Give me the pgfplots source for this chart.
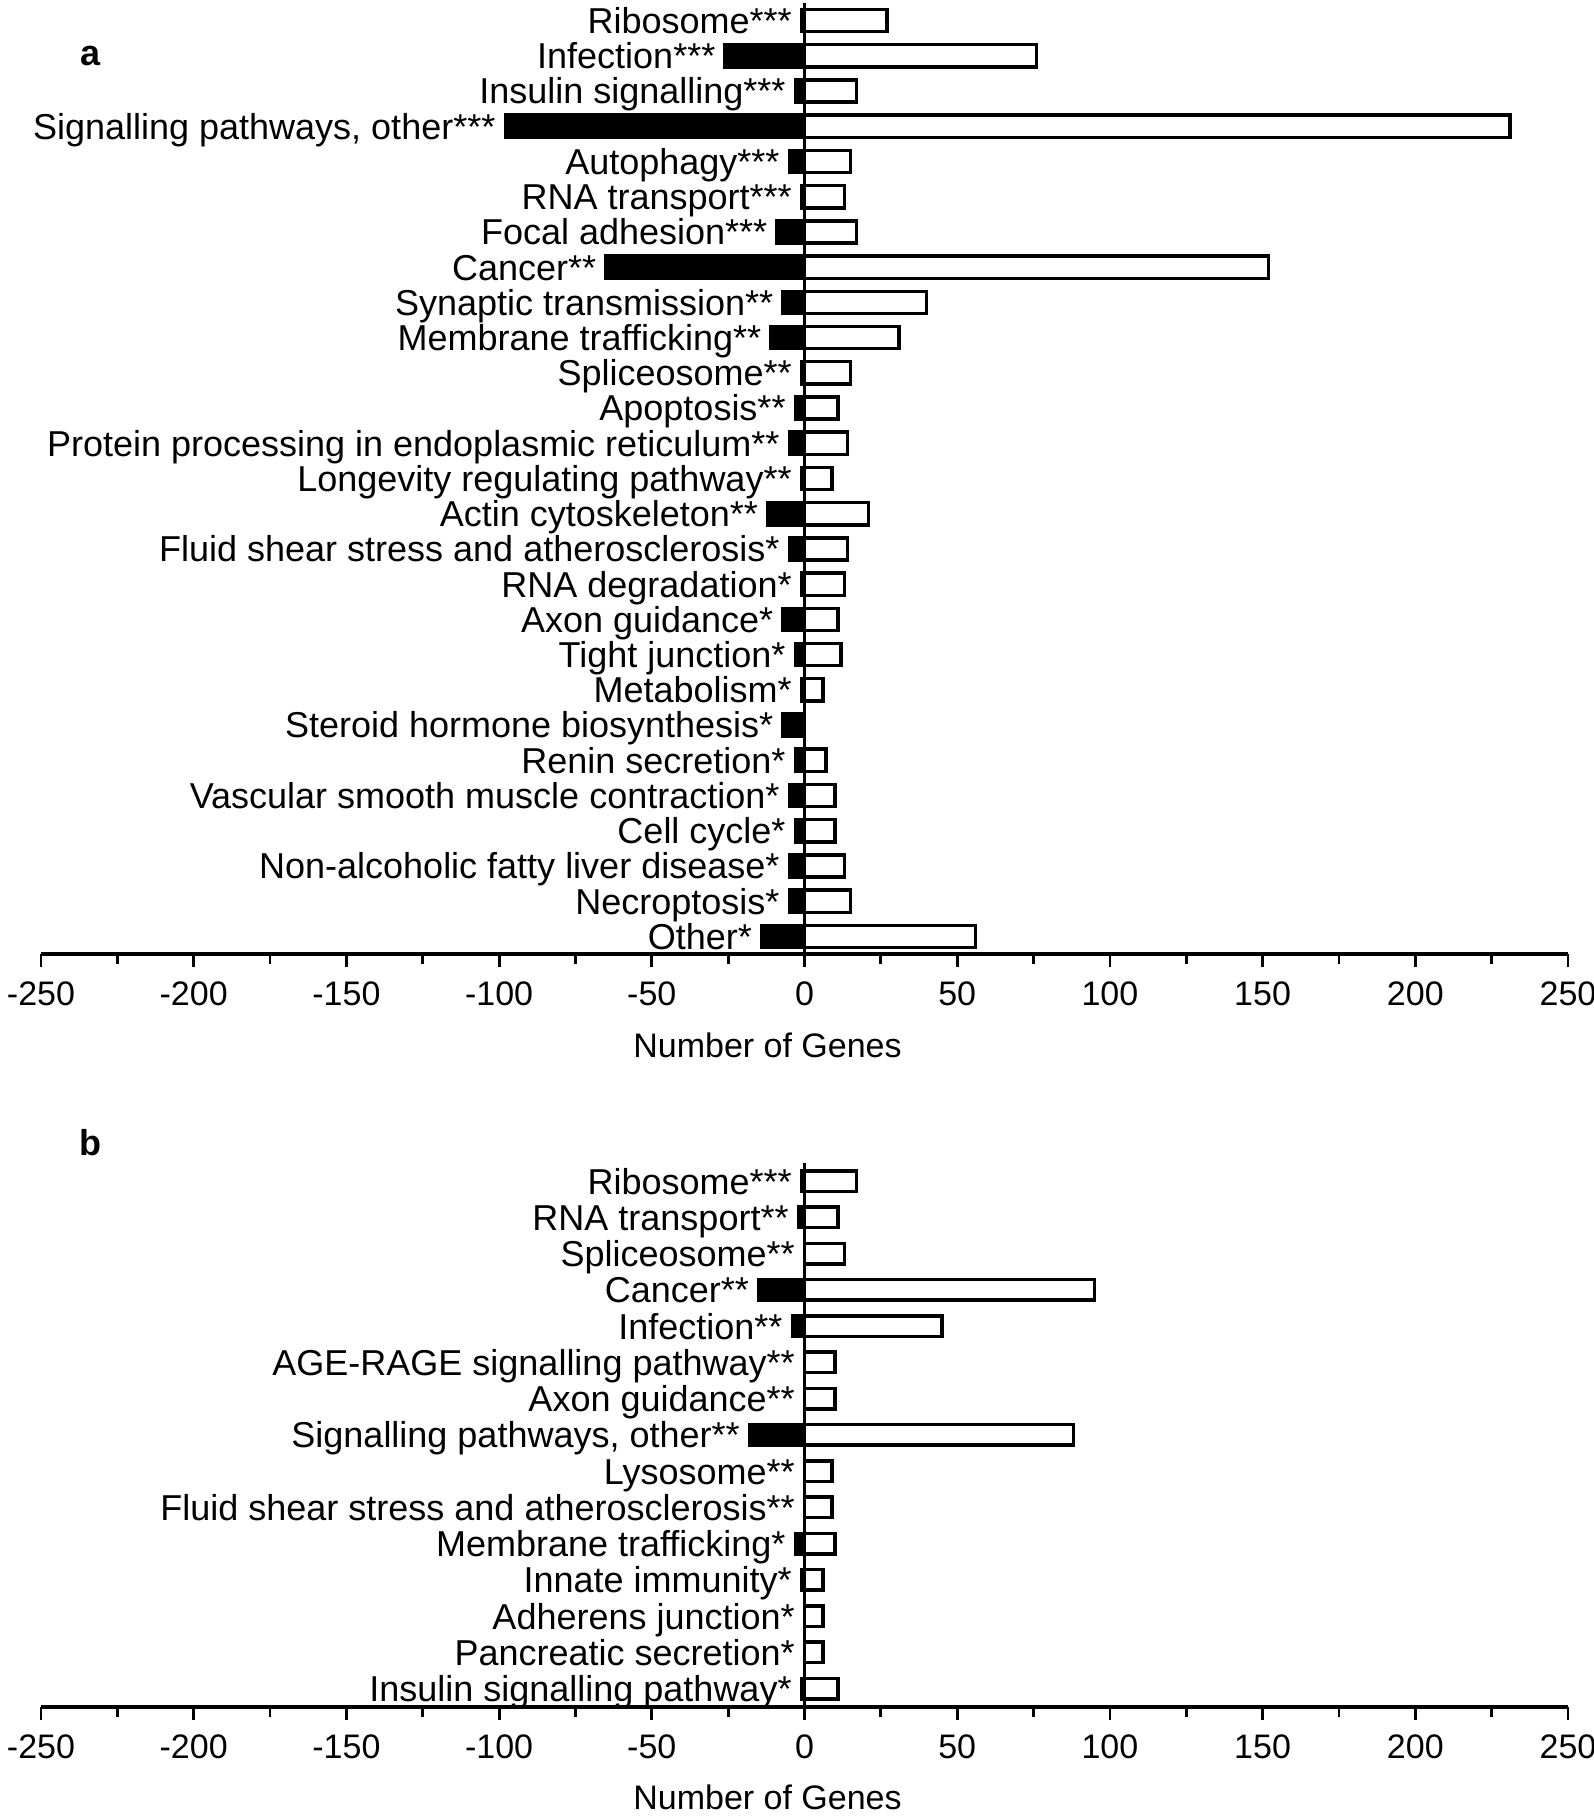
\documentclass[border=0pt]{standalone}
\usepackage{pgfplots}
\pgfplotsset{compat=1.18}
\usepackage{pgfplotstable}
\usepackage{fontspec}
\setmainfont{Liberation Sans}

\pgfplotstableread[col sep=semicolon]{
label;neg;pos
Ribosome***;-1;27
Infection***;-26;76
Insulin signalling***;-3;17
Signalling pathways, other***;-98;231
Autophagy***;-5;15
RNA transport***;-1;13
Focal adhesion***;-9;17
Cancer**;-65;152
Synaptic transmission**;-7;40
Membrane trafficking**;-11;31
Spliceosome**;-1;15
Apoptosis**;-3;11
Protein processing in endoplasmic reticulum**;-5;14
Longevity regulating pathway**;-1;9
Actin cytoskeleton**;-12;21
Fluid shear stress and atherosclerosis*;-5;14
RNA degradation*;-1;13
Axon guidance*;-7;11
Tight junction*;-3;12
Metabolism*;-1;6
Steroid hormone biosynthesis*;-7;0
Renin secretion*;-3;7
Vascular smooth muscle contraction*;-5;10
Cell cycle*;-3;10
Non-alcoholic fatty liver disease*;-5;13
Necroptosis*;-5;15
Other*;-14;56
}\tblA

\pgfplotstableread[col sep=semicolon]{
label;neg;pos
Ribosome***;-1;17
RNA transport**;-2;11
Spliceosome**;0;13
Cancer**;-15;95
Infection**;-4;45
AGE-RAGE signalling pathway**;0;10
Axon guidance**;0;10
Signalling pathways, other**;-18;88
Lysosome**;0;9
Fluid shear stress and atherosclerosis**;0;9
Membrane trafficking*;-3;10
Innate immunity*;-1;6
Adherens junction*;0;6
Pancreatic secretion*;0;6
Insulin signalling pathway*;-1;11
}\tblB

\pgfplotsset{
 panel/.style={
  scale only axis, width=763.5pt,
  xmin=-250, xmax=250,
  xbar,
  axis x line*=bottom, axis y line*=center,
  hide obscured x ticks=false,
  xtick={-250,-200,...,250}, minor x tick num=1,
  tick align=outside,
  major tick length=6.5pt, minor tick length=5pt,
  x axis line style={line width=2pt},
  y axis line style={line width=1.7pt},
  xtick style={line width=1.4pt, black},
  ytick style={draw=none},
  /pgf/number format/assume math mode=true,
  xticklabel style={yshift=-4pt, font=\fontsize{17}{20}\selectfont},
  yticklabel style={inner xsep=0pt, xshift=1.8pt, text height=12.9pt, text depth=0pt},
  xlabel={Number of Genes},
  every axis x label/.style={at={(axis description cs:0.5,0)}, anchor=center, yshift=-45.5pt, xshift=-18.5pt, font=\fontsize{17}{20}\selectfont},
  clip=false,
 },
 labelsfrom/.style n args={2}{
  yticklabel={%
   \pgfmathtruncatemacro\rowi{#2-\ticknum}%
   \pgfplotstablegetelem{\rowi}{neg}\of#1%
   \pgfmathsetlengthmacro\mysh{max(0,-(\pgfplotsretval))*1.527}%
   \pgfplotstablegetelem{\rowi}{label}\of#1%
   \pgfplotsretval\hspace*{\mysh}}%
 },
}

\begin{document}
\begin{tikzpicture}[font=\fontsize{18}{21.6}\selectfont]
\path[use as bounding box] (0,0) rectangle (797pt,-910pt);

\begin{axis}[panel, at={(20.5pt,-477pt)}, anchor=south west,
  height=475.5pt, ymin=-0.5, ymax=26.5, ytick={0,...,26},
  labelsfrom={\tblA}{26}]
\addplot[xbar, bar shift=0pt, bar width=11.1pt, fill=black, draw=black, line width=1.7pt]
  table[x=neg, y expr=26-\coordindex]{\tblA};
\addplot[xbar, bar shift=0pt, bar width=11.1pt, fill=white, draw=black, line width=1.7pt]
  table[x=pos, y expr=26-\coordindex]{\tblA};
\end{axis}

\begin{axis}[panel, at={(20.5pt,-853.35pt)}, anchor=south west,
  height=271.85pt, ymin=-0.5, ymax=14.5, ytick={0,...,14},
  labelsfrom={\tblB}{14}]
\addplot[xbar, bar shift=0pt, bar width=10.3pt, fill=black, draw=black, line width=1.7pt]
  table[x=neg, y expr=14-\coordindex]{\tblB};
\addplot[xbar, bar shift=0pt, bar width=10.3pt, fill=white, draw=black, line width=1.7pt]
  table[x=pos, y expr=14-\coordindex]{\tblB};
\end{axis}

\node[font=\bfseries\fontsize{18}{21.6}\selectfont] at (45.25pt,-28pt) {a};
\node[font=\bfseries\fontsize{18}{21.6}\selectfont] at (45.25pt,-571.5pt) {b};
\end{tikzpicture}
\end{document}
